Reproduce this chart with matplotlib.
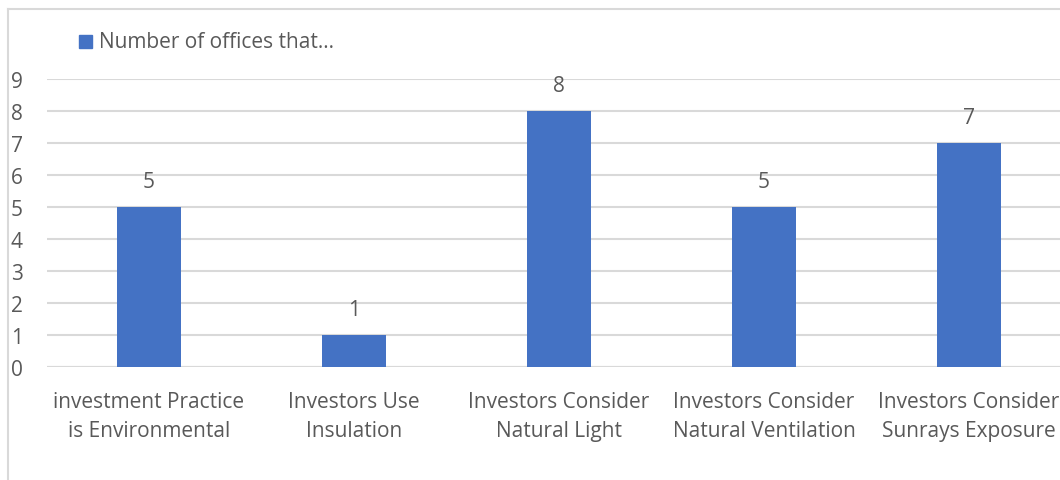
import matplotlib
matplotlib.use("Agg")
from matplotlib import pyplot as plt
from matplotlib.lines import Line2D
from matplotlib.patches import Rectangle

categories = ["investment Practice\nis Environmental", "Investors Use\nInsulation",
              "Investors Consider\nNatural Light", "Investors Consider\nNatural Ventilation",
              "Investors Consider\nSunrays Exposure"]
values = [5, 1, 8, 5, 7]
series_name = "Number of offices that\u2026"
yticks = list(range(0, 10))

text_color = "#595959"
grid_color = "#d9d9d9"
bar_color = "#4472C4"
plt.rcParams['font.family'] = ['Open Sans', 'DejaVu Sans']
fs = 15

fig = plt.figure(figsize=(10.6, 4.81), dpi=100)
W, H = 1060, 481

# chart border (only left and top visible in the crop)
fig.add_artist(Line2D([8 / W, 8 / W], [0, 1 - 10 / H], color=grid_color, lw=1.5))
fig.add_artist(Line2D([8 / W, 1], [1 - 10 / H, 1 - 10 / H], color=grid_color, lw=1.5))

left, right = 46.5, 1071.5
ax = fig.add_axes([left / W, (H - 368) / H, (right - left) / W, 288 / H])
x = range(len(categories))
bars = ax.bar(x, values, width=0.31, color=bar_color, zorder=3)
ax.set_xlim(-0.5, len(categories) - 0.5)
ax.set_ylim(0, 9)
ax.set_yticks(yticks)
ax.set_xticks(list(x))
ax.set_xticklabels(categories, fontsize=fs, color=text_color, linespacing=1.5)
ax.tick_params(axis='y', length=0, pad=17, labelsize=fs, labelcolor=text_color)
ax.tick_params(axis='x', length=0, pad=17)
ax.grid(axis='y', color=grid_color, lw=1.5, zorder=0)
for s in ax.spines.values():
    s.set_visible(False)
ax.axhline(0, color=grid_color, lw=1.5, zorder=2)

for b, v in zip(bars, values):
    ax.annotate(str(v), (b.get_x() + b.get_width() / 2, v), xytext=(0, 11),
                textcoords='offset points', ha='center', va='bottom',
                fontsize=fs, color=text_color)

# legend
fig.add_artist(Rectangle((79 / W, 1 - 49 / H), 13 / W, 13 / H, color=bar_color))
fig.text(99 / W, 1 - 43 / H, series_name, fontsize=fs, color=text_color, va='center', ha='left')

fig.savefig("out.png", dpi=100)
